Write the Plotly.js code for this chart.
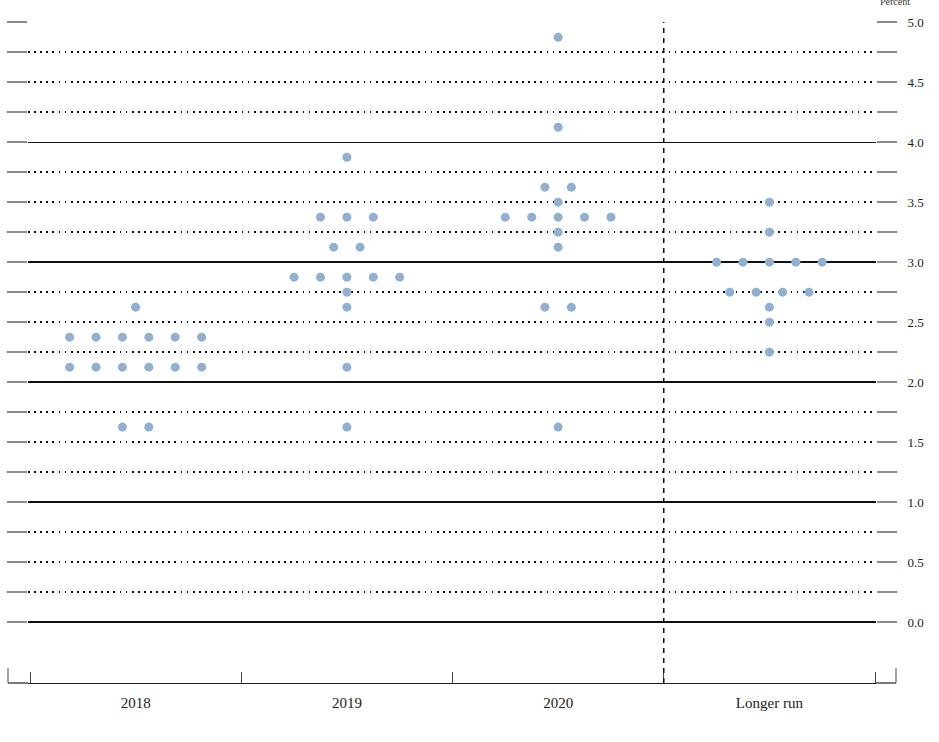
<!DOCTYPE html>
<html>
<head>
<meta charset="utf-8">
<script src="https://cdn.plot.ly/plotly-3.0.1.min.js"></script>
<style>html,body{margin:0;padding:0;background:#fff;}#chart{width:939px;height:742px;}</style>
</head>
<body>
<div id="chart"></div>
<script>
// ---- Data ----
const categories = ['2018', '2019', '2020', 'Longer run'];
const categoryPositions = [0, 1, 2, 3];
const categoryBoundaries = [-0.5, 0.5, 1.5, 2.5, 3.5];

const rates2018 = [1.625, 2.125, 2.375, 2.625];
const counts2018 = [2, 6, 6, 1];

const rates2019 = [1.625, 2.125, 2.625, 2.75, 2.875, 3.125, 3.375, 3.875];
const counts2019 = [1, 1, 1, 1, 5, 2, 3, 1];

const rates2020 = [1.625, 2.625, 3.125, 3.25, 3.375, 3.5, 3.625, 4.125, 4.875];
const counts2020 = [1, 2, 1, 1, 5, 1, 2, 1, 1];

const ratesLonger = [2.25, 2.5, 2.625, 2.75, 3.0, 3.25, 3.5];
const countsLonger = [1, 1, 1, 4, 5, 1, 1];

const yTickValues = [0, 0.5, 1, 1.5, 2, 2.5, 3, 3.5, 4, 4.5, 5];
const yTickLabels = ['0.0', '0.5', '1.0', '1.5', '2.0', '2.5', '3.0', '3.5', '4.0', '4.5', '5.0'];
const solidLevels = [0, 1, 2, 3, 4, 5];
const dottedLevels = [0.25, 0.5, 0.75, 1.25, 1.5, 1.75, 2.25, 2.5, 2.75, 3.25, 3.5, 3.75, 4.25, 4.5, 4.75];

// ---- Build dot positions (participants side by side around category center) ----
const dotSpacing = 0.125;
const allRates = [rates2018, rates2019, rates2020, ratesLonger];
const allCounts = [counts2018, counts2019, counts2020, countsLonger];
const xs = [], ys = [];
allRates.forEach((rates, ci) => {
  rates.forEach((r, k) => {
    const n = allCounts[ci][k];
    for (let j = 0; j < n; j++) {
      xs.push(categoryPositions[ci] + (j - (n - 1) / 2) * dotSpacing);
      ys.push(r);
    }
  });
});

const FONT = 'Liberation Serif, Times New Roman, serif';
const plotW = 848, plotH = 661;

const trace = {
  x: xs, y: ys, type: 'scatter', mode: 'markers',
  marker: {color: '#8fb0d3', size: 9, line: {width: 0}},
  hoverinfo: 'x+y', showlegend: false
};
// carrier so the right-hand percent axis is drawn
const axisCarrier = {
  x: [categoryPositions[0]], y: [yTickValues[0]], yaxis: 'y2', type: 'scatter', mode: 'markers',
  marker: {opacity: 0}, hoverinfo: 'skip', showlegend: false
};

const yRange = [-0.508, 5.002];

const layout = {
  width: 939, height: 742,
  margin: {l: 28, r: 63, t: 22, b: 59},
  paper_bgcolor: '#fff', plot_bgcolor: '#fff',
  font: {family: FONT, color: '#222'},
  showlegend: false,
  xaxis: {
    range: [-0.5 - 2 / 211.25, 3.5 + 1 / 211.25],
    tickmode: 'array', tickvals: categoryPositions, ticktext: categories,
    ticks: '', showgrid: false, zeroline: false,
    showline: true, linecolor: '#222', linewidth: 1.2,
    tickfont: {family: FONT, size: 15, color: '#222'},
    ticklabelstandoff: 6,
    minor: {tickmode: 'array', tickvals: categoryBoundaries, ticks: 'inside', ticklen: 11, tickwidth: 1, tickcolor: '#444', showgrid: false},
    fixedrange: true
  },
  yaxis: {
    range: yRange,
    tickmode: 'array', tickvals: solidLevels,
    showticklabels: false,
    ticks: 'outside', ticklen: 20, tickwidth: 1.5, tickcolor: '#8c8c8c',
    showgrid: true, gridcolor: '#111', gridwidth: 1.4,
    zeroline: false, showline: false,
    minor: {tickmode: 'array', tickvals: dottedLevels, ticks: 'outside', ticklen: 20, tickwidth: 1.5, tickcolor: '#8c8c8c',
            showgrid: true, gridcolor: '#111', gridwidth: 1.8, griddash: '1.8px,4.3px'},
    fixedrange: true
  },
  yaxis2: {
    overlaying: 'y', side: 'right', anchor: 'x',
    range: yRange,
    tickmode: 'array', tickvals: yTickValues, ticktext: yTickLabels,
    ticks: 'outside', ticklen: 20, tickwidth: 1.5, tickcolor: '#8c8c8c',
    tickfont: {family: FONT, size: 13, color: '#222'},
    ticklabelstandoff: 8,
    showgrid: false, zeroline: false, showline: false,
    minor: {tickmode: 'array', tickvals: dottedLevels, ticks: 'outside', ticklen: 20, tickwidth: 1.5, tickcolor: '#8c8c8c', showgrid: false},
    fixedrange: true
  },
  shapes: [
    // divider between projections and longer run
    {type: 'line', xref: 'x', yref: 'paper', x0: categoryBoundaries[3], x1: categoryBoundaries[3], y0: 0, y1: 1,
     line: {color: '#111', width: 1.5, dash: '5px,5px'}, layer: 'above'},
    // bottom axis extensions to frame edges
    {type: 'line', xref: 'paper', yref: 'paper', x0: -20 / plotW, x1: 0, y0: 0, y1: 0, line: {color: '#222', width: 1.2}},
    {type: 'line', xref: 'paper', yref: 'paper', x0: 1, x1: 1 + 20 / plotW, y0: 0, y1: 0, line: {color: '#222', width: 1.2}},
    // frame edge ticks
    {type: 'line', xref: 'paper', yref: 'paper', x0: -20 / plotW, x1: -20 / plotW, y0: 0, y1: 15 / plotH, line: {color: '#444', width: 1}},
    {type: 'line', xref: 'paper', yref: 'paper', x0: 1 + 20 / plotW, x1: 1 + 20 / plotW, y0: 0, y1: 15 / plotH, line: {color: '#444', width: 1}}
  ],
  annotations: [
    {text: 'Percent', xref: 'paper', yref: 'paper', x: 1 + 19 / plotW, y: 1 + 20 / plotH,
     xanchor: 'center', yanchor: 'middle', showarrow: false, font: {family: FONT, size: 10, color: '#333'}}
  ]
};

Plotly.newPlot('chart', [trace, axisCarrier], layout, {displayModeBar: false, staticPlot: true});
</script>
</body>
</html>
